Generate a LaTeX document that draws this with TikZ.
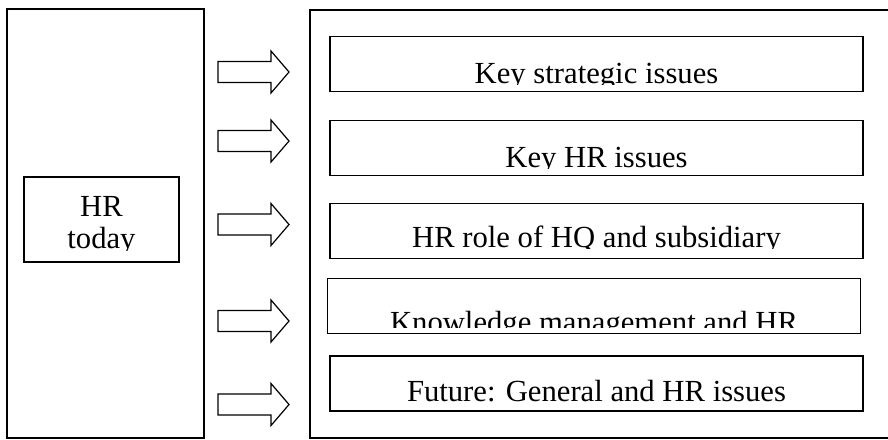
\documentclass[tikz,border=0pt]{standalone}
\usepackage{fontspec}
\setmainfont{Liberation Serif}
\usetikzlibrary{positioning}

% text that the box cuts off at its lower margin
\newcommand{\cliptext}[5]{%
  \begin{scope}
    \clip ([shift={(4,4)}]#1.north west) rectangle ([shift={(-4,-#3)}]#1.south east);
    \node[itemtext,anchor=base] (#2) at ([shift={(0,#4)}]#1.north) {#5};
  \end{scope}}

\begin{document}
\begin{tikzpicture}[
  x=0.75pt, y=-0.75pt,
  frame/.style={draw,line width=1.3pt,inner sep=0pt},
  itembox/.style={draw,line width=1.3pt,inner sep=0pt,minimum width=399.75pt,minimum height=41.25pt},
  itemtext/.style={font=\fontsize{23}{24}\selectfont,inner sep=0pt,align=center},
  pics/fatarrow/.style={code={
    \draw[line width=0.9pt,line join=miter] (0,-10.5) -- (53,-10.5) -- (53,-21) -- (71,0)
      -- (53,21) -- (53,10.5) -- (0,10.5) -- cycle;}}
]
\useasboundingbox[fill=white] (0,0) rectangle (888,439);

% left side
\node[frame,minimum width=147.75pt,minimum height=321.75pt] (today) at (105.5,223.5) {};
\node[frame,minimum width=116.25pt,minimum height=63.75pt] (hrbox) at (101.5,219.5) {};
\cliptext{hrbox}{hrtext}{12}{72}{HR\\today}

% arrows
\pic at (218,72) {fatarrow};
\pic at (218,141) {fatarrow};
\pic at (218,224.5) {fatarrow};
\pic at (218,321) {fatarrow};
\pic at (218,404.5) {fatarrow};

% right side
\node[frame,minimum width=450pt,minimum height=321pt] (issues) at (610,224) {};
\node[itembox] (strat) at (596.5,64) {};
\node[itembox] (hrkey) at (596.5,148) {};
\node[itembox] (role) at (596.5,231) {};
\node[itembox] (know) at (594,306) {};
\node[itembox] (future) at (596.5,383.5) {};
\cliptext{strat}{strattext}{7.5}{47.5}{Key strategic issues}
\cliptext{hrkey}{hrkeytext}{7.5}{48}{Key HR issues}
\cliptext{role}{roletext}{10.5}{45}{HR role of HQ and subsidiary}
\cliptext{know}{knowtext}{7}{54.5}{Knowledge management and HR}
\cliptext{future}{futuretext}{7}{46}{Future: General and HR issues}
\end{tikzpicture}
\end{document}
